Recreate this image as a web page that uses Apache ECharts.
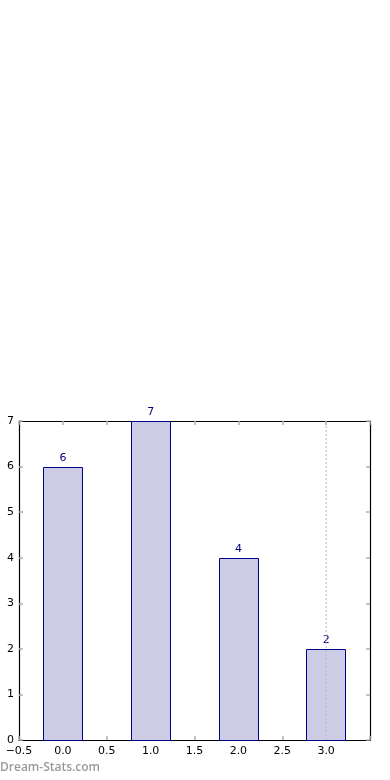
<!DOCTYPE html>
<html><head><meta charset="utf-8">
<script src="https://cdn.jsdelivr.net/npm/echarts@6/dist/echarts.min.js"></script>
<style>html,body{margin:0;padding:0;background:#fff}#c{width:390px;height:780px}</style>
</head><body><div id="c"></div>
<script>
const positions = [0, 1, 2, 3];
const values = [6, 7, 4, 2];
const markerX = 3;
const barHalf = 0.225;

const chart = echarts.init(document.getElementById('c'), null, {renderer: 'canvas'});
const font = 'DejaVu Sans';
const tickStyle = {show: true, inside: true, length: 4, lineStyle: {color: '#b0b0b0', width: 1.5}};
const frame = {show: true, onZero: false, lineStyle: {color: '#000', width: 1.2}};
const fmt = v => (Math.abs(v - 3.5) < 1e-9) ? '' : v.toFixed(1).replace('-', '\u2212');

chart.setOption({
  animation: false,
  grid: {left: 19, right: 20, top: 421, bottom: 40},
  xAxis: [
    {type: 'value', min: -0.5, max: 3.5, interval: 0.5, position: 'bottom',
     axisLine: frame, axisTick: tickStyle, splitLine: {show: false},
     axisLabel: {formatter: fmt, color: '#000', fontFamily: font, fontSize: 11, margin: 6, showMaxLabel: true}},
    {type: 'value', min: -0.5, max: 3.5, interval: 0.5, position: 'top',
     axisLine: frame, axisTick: tickStyle, splitLine: {show: false}, axisLabel: {show: false}}
  ],
  yAxis: [
    {type: 'value', min: 0, max: 7, interval: 1, position: 'left',
     axisLine: frame, axisTick: tickStyle, splitLine: {show: false},
     axisLabel: {color: '#000', fontFamily: font, fontSize: 11, margin: 5}},
    {type: 'value', min: 0, max: 7, interval: 1, position: 'right',
     axisLine: frame, axisTick: tickStyle, splitLine: {show: false}, axisLabel: {show: false}}
  ],
  series: [
    {type: 'custom', xAxisIndex: 0, yAxisIndex: 0,
     data: positions.map((p, i) => [p, values[i]]),
     renderItem: function (params, api) {
       const x = api.value(0), y = api.value(1);
       const p1 = api.coord([x - barHalf, y]);
       const p2 = api.coord([x + barHalf, 0]);
       const cx = api.coord([x, y]);
       return {type: 'group', children: [
         {type: 'rect', shape: {x: Math.round(p1[0]) + 0.5, y: Math.round(p1[1]) + 0.5, width: Math.round(p2[0] - p1[0]), height: Math.round(p2[1] - p1[1])},
          style: {fill: '#ccccE5', stroke: '#00008b', lineWidth: 1}},
         {type: 'text', x: cx[0], y: cx[1] - 3,
          style: {text: String(y), fill: '#000080', font: '11px "DejaVu Sans"', align: 'center', verticalAlign: 'bottom'}}
       ]};
     }, z: 2},
    {type: 'line', xAxisIndex: 0, yAxisIndex: 0, data: [[markerX, 0], [markerX, 7]],
     symbol: 'none', lineStyle: {color: '#b8b8b8', width: 1, type: [2, 2]}, z: 3}
  ],
  graphic: [
    {type: 'text', left: 0, top: 762, style: {text: 'Dream-Stats.com', fill: '#999999', font: '600 12px "Open Sans"'}}
  ]
});
</script></body></html>
